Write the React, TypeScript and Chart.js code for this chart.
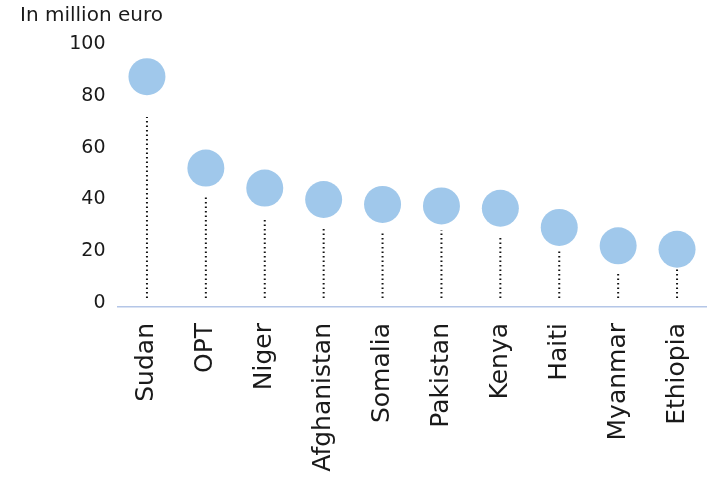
import React, { useEffect, useRef } from "react";
import { Chart, registerables } from "chart.js";

Chart.register(...registerables);

const categories = ["Sudan", "OPT", "Niger", "Afghanistan", "Somalia", "Pakistan", "Kenya", "Haiti", "Myanmar", "Ethiopia"];
const values = [87.4, 52.1, 44.4, 40.0, 38.1, 37.5, 36.6, 29.2, 22.1, 20.8];
const stemTops = [71.8, 40.9, 32.9, 29.5, 27.5, 28.2, 25.9, 20.1, 12.1, 13.0];
const stemBase = 2;
const yTicks = [0, 20, 40, 60, 80, 100];
const unitLabel = "In million euro";

export default function App() {
  const ref = useRef<HTMLCanvasElement | null>(null);

  useEffect(() => {
    document.body.style.margin = "0";
    const canvas = ref.current;
    if (!canvas) return;

    const stemData: any[] = [];
    categories.forEach((c, i) => {
      stemData.push({ x: c, y: stemBase });
      stemData.push({ x: c, y: stemTops[i] });
      stemData.push({ x: c, y: null });
    });

    const chart = new Chart(canvas, {
      type: "line",
      data: {
        labels: categories,
        datasets: [
          {
            label: "stems",
            data: stemData,
            borderColor: "#111111",
            borderWidth: 2,
            borderDash: [1.5, 3],
            pointRadius: 0,
            spanGaps: false,
            fill: false,
            order: 2,
          },
          {
            label: "values",
            data: values,
            showLine: false,
            pointRadius: 18.5,
            pointHoverRadius: 18.5,
            pointBackgroundColor: "#A0C8EB",
            pointBorderWidth: 0,
            borderWidth: 0,
            order: 1,
          },
        ],
      },
      options: {
        responsive: false,
        animation: false,
        devicePixelRatio: 1,
        layout: { autoPadding: false, padding: { left: 20, right: 8.5, top: 0, bottom: 0 } },
        plugins: {
          legend: { display: false },
          tooltip: { enabled: false },
          title: {
            display: true,
            text: unitLabel,
            align: "start",
            color: "#1a1a1a",
            font: { family: "'DejaVu Sans'", size: 20, weight: "normal" },
            padding: { top: 4, bottom: 16 },
          },
        },
        scales: {
          x: {
            type: "category",
            offset: true,
            grid: { display: false, drawTicks: false },
            border: { display: true, color: "#B4C6E7", width: 1.5 },
            ticks: {
              color: "#1a1a1a",
              font: { family: "'DejaVu Sans'", size: 25 },
              minRotation: 90,
              maxRotation: 90,
              padding: 16,
              autoSkip: false,
            },
            afterFit: (scale: any) => {
              scale.height = 170;
              scale.paddingLeft = 0;
              scale.paddingRight = 0;
            },
          },
          y: {
            min: -1.5,
            max: 100,
            grid: { display: false, drawTicks: false },
            border: { display: false },
            ticks: {
              color: "#1a1a1a",
              font: { family: "'DejaVu Sans'", size: 19 },
              padding: 12,
            },
            afterBuildTicks: (scale: any) => {
              scale.ticks = yTicks.map((v) => ({ value: v }));
            },
            afterFit: (scale: any) => {
              scale.width = 97.5;
              scale.paddingTop = 0;
              scale.paddingBottom = 0;
            },
          },
        },
      },
    });

    return () => chart.destroy();
  }, []);

  return <canvas ref={ref} width={715} height={477} style={{ display: "block" }} />;
}
